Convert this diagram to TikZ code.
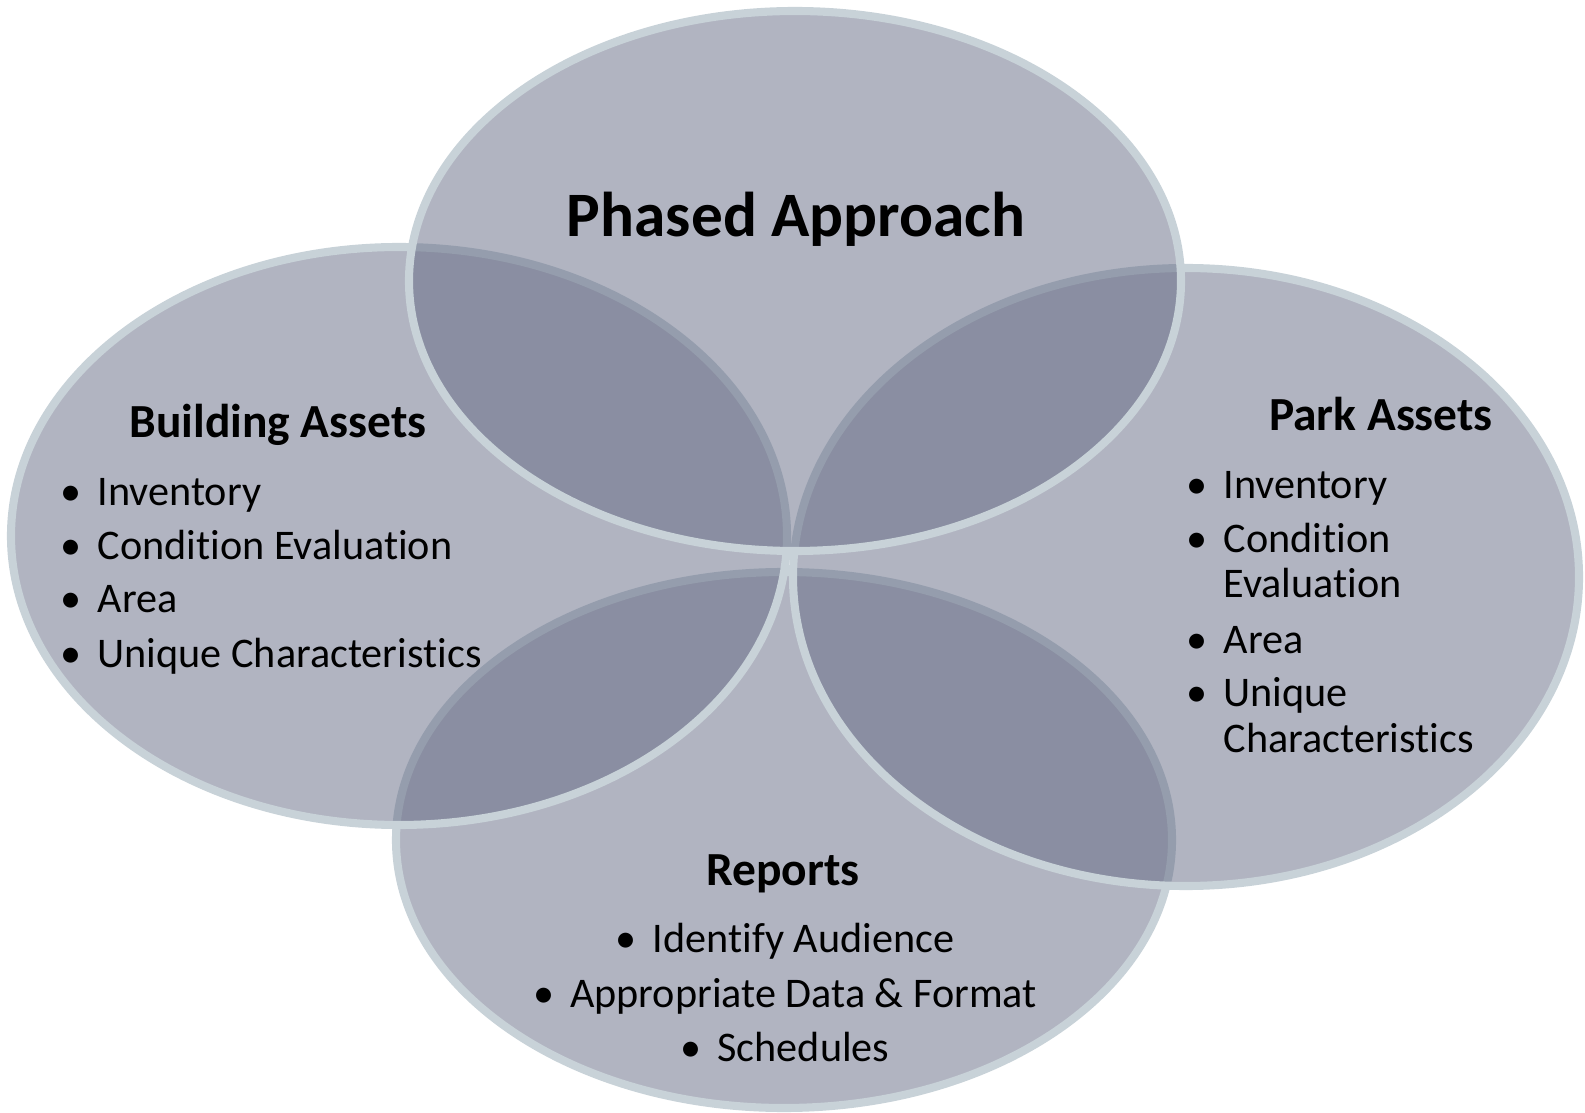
\documentclass[tikz,border=0pt]{standalone}
\usepackage{fontspec}
\setmainfont{Carlito}[Ligatures=NoCommon]
\usetikzlibrary{positioning}
\definecolor{ringfill}{RGB}{99,105,131}
\definecolor{ringedge}{RGB}{200,210,216}
\tikzset{ring/.style={fill=ringfill, fill opacity=0.5, draw=ringedge, line width=2.3pt},
%headings and list lines
head/.style={font=\fontsize{13.5}{16}\selectfont\bfseries, anchor=base, inner sep=0pt},
item/.style={font=\fontsize{12}{14}\selectfont, anchor=base west, inner sep=0pt},
citem/.style={font=\fontsize{12}{14}\selectfont, anchor=base, inner sep=0pt}}
\newcommand{\blt}{\llap{\textbullet\hspace{4.5pt}}}

\begin{document}
\begin{tikzpicture}[x=0.01cm, y=-0.01cm]
 \useasboundingbox (0,0) rectangle (1585,1113);
 %Drawing the four rings
 \draw[ring] (784,840) ellipse [x radius=388, y radius=268];
 \draw[ring] (399,536) ellipse [x radius=388, y radius=289];
 \draw[ring] (1186,577) ellipse [x radius=393, y radius=309];
 \draw[ring] (795,281) ellipse [x radius=386, y radius=270];

 %Top ring
 \node (phasehead) [head, font=\fontsize{18}{21}\selectfont\bfseries] at (796,237) {Phased Approach};

 %Left ring
 \node (buildhead) [head] at (278,438) {Building Assets};
 \node (build1) [item] at (97,506) {\blt Inventory};
 \node (build2) [item] at (97,560) {\blt Condition Evaluation};
 \node (build3) [item] at (97,613) {\blt Area};
 \node (build4) [item] at (97,667) {\blt Unique Characteristics};

 %Right ring
 \node (parkhead) [head] at (1381,431) {Park Assets};
 \node (park1) [item] at (1223,499) {\blt Inventory};
 \node (park2) [item] at (1223,553) {\blt Condition};
 \node (park2b) [item] at (1223,598) {Evaluation};
 \node (park3) [item] at (1223,653) {\blt Area};
 \node (park4) [item] at (1223,706) {\blt Unique};
 \node (park4b) [item] at (1223,752) {Characteristics};

 %Bottom ring
 \node (rephead) [head] at (783,885) {Reports};
 \node (rep1) [citem] at (785,952) {\textbullet\hspace{4.5pt}Identify Audience};
 \node (rep2) [citem] at (785,1007) {\textbullet\hspace{4.5pt}Appropriate Data \& Format};
 \node (rep3) [citem] at (785,1061) {\textbullet\hspace{4.5pt}Schedules};
\end{tikzpicture}
\end{document}
